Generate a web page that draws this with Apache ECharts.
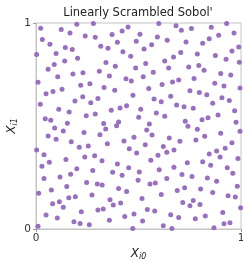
<!DOCTYPE html>
<html lang="en">
<head>
    <meta charset="UTF-8">
    <title>Linearly Scrambled Sobol'</title>
    <script src="https://cdn.jsdelivr.net/npm/echarts@6/dist/echarts.min.js"></script>
    <style>
        body { margin: 0; background: #fff; }
    </style>
</head>
<body>
<div id="main" style="width: 243px;height:260px;"></div>
<script type="text/javascript">
    // values, x in [0,1]
    var xVals = [
        0.023, 0.123, 0.199, 0.280, 0.166, 0.240, 0.289, 0.031, 0.068, 0.316, 0.143, 0.177, 0.003, 0.098, 0.203, 0.140,
        0.089, 0.059, 0.309, 0.229, 0.180, 0.106, 0.010, 0.218, 0.263, 0.332, 0.127, 0.083, 0.049, 0.302, 0.228, 0.190,
        0.267, 0.021, 0.111, 0.162, 0.289, 0.245, 0.045, 0.072, 0.153, 0.330,
        0.449, 0.420, 0.371, 0.507, 0.599, 0.592, 0.640, 0.397, 0.489, 0.564, 0.527, 0.351, 0.424, 0.462, 0.671, 0.628,
        0.341, 0.535, 0.387, 0.486, 0.647, 0.572, 0.358, 0.523, 0.439, 0.465, 0.666, 0.615, 0.384, 0.550, 0.657, 0.473,
        0.576, 0.611, 0.442, 0.410, 0.367, 0.511, 0.587, 0.628, 0.501, 0.403, 0.393, 0.553,
        0.683, 0.709, 0.758, 0.855, 0.930, 0.966, 0.891, 0.845, 0.813, 0.732, 0.989, 0.956, 0.706, 0.787, 0.875, 0.927,
        0.992, 0.745, 0.794, 0.820, 0.901, 0.950, 0.771, 0.696, 0.872, 0.917, 0.995, 0.751, 0.797, 0.833, 0.907, 0.943,
        0.862, 0.686, 0.722, 0.767, 0.969, 0.888, 0.839, 0.810, 0.728, 0.976, 0.741,
        0.091, 0.133, 0.059, 0.098, 0.234, 0.312, 0.172, 0.211, 0.255, 0.003, 0.039, 0.238, 0.286, 0.146, 0.065, 0.322,
        0.029, 0.199, 0.277, 0.169, 0.117, 0.039, 0.247, 0.299, 0.323, 0.150, 0.075, 0.013, 0.273, 0.192, 0.160, 0.081,
        0.114, 0.133, 0.328, 0.302, 0.221, 0.049, 0.104, 0.185, 0.215, 0.260, 0.010,
        0.340, 0.540, 0.566, 0.650, 0.478, 0.429, 0.348, 0.533, 0.621, 0.673, 0.455, 0.491, 0.638, 0.595, 0.560, 0.397,
        0.452, 0.601, 0.673, 0.374, 0.504, 0.420, 0.638, 0.498, 0.556, 0.582, 0.403, 0.442, 0.611, 0.517, 0.361, 0.413,
        0.377, 0.543, 0.579, 0.657, 0.478, 0.433, 0.358, 0.520, 0.621, 0.472, 0.663,
        0.787, 0.901, 0.995, 0.702, 0.780, 0.823, 0.956, 0.923, 0.881, 0.845, 0.898, 0.985, 0.738, 0.813, 0.852, 0.933,
        0.960, 0.712, 0.761, 0.836, 0.881, 0.982, 0.725, 0.689, 0.803, 0.862, 0.937, 0.972, 0.716, 0.767, 0.751, 0.800,
        0.998, 0.911, 0.696, 0.777, 0.826, 0.917, 0.946, 0.868
    ];
    var yVals = [
        0.974, 0.968, 0.994, 0.998, 0.952, 0.937, 0.931, 0.920, 0.897, 0.887, 0.881, 0.871, 0.847, 0.852, 0.829, 0.816,
        0.799, 0.776, 0.766, 0.758, 0.752, 0.739, 0.712, 0.698, 0.705, 0.687, 0.679, 0.668, 0.656, 0.634, 0.642, 0.621,
        0.613, 0.606, 0.581, 0.568, 0.558, 0.550, 0.535, 0.528, 0.513, 0.512,
        0.981, 0.961, 0.944, 0.945, 0.998, 0.932, 0.916, 0.907, 0.911, 0.894, 0.874, 0.878, 0.860, 0.839, 0.835, 0.816,
        0.808, 0.803, 0.790, 0.782, 0.781, 0.761, 0.743, 0.739, 0.729, 0.719, 0.714, 0.702, 0.673, 0.682, 0.644, 0.649,
        0.631, 0.618, 0.598, 0.587, 0.576, 0.581, 0.563, 0.547, 0.542, 0.519, 0.501, 0.510,
        0.987, 0.965, 0.973, 0.979, 0.997, 0.952, 0.940, 0.923, 0.902, 0.908, 0.884, 0.864, 0.857, 0.849, 0.842, 0.824,
        0.810, 0.786, 0.794, 0.771, 0.755, 0.747, 0.731, 0.723, 0.708, 0.694, 0.684, 0.671, 0.663, 0.652, 0.637, 0.624,
        0.611, 0.602, 0.593, 0.586, 0.574, 0.553, 0.540, 0.530, 0.523, 0.518, 0.499,
        0.490, 0.476, 0.452, 0.436, 0.468, 0.458, 0.423, 0.397, 0.403, 0.384, 0.361, 0.349, 0.355, 0.337, 0.324, 0.331,
        0.305, 0.292, 0.284, 0.266, 0.253, 0.245, 0.226, 0.219, 0.213, 0.206, 0.189, 0.174, 0.165, 0.156, 0.152, 0.122,
        0.132, 0.106, 0.097, 0.092, 0.084, 0.068, 0.053, 0.035, 0.027, 0.021, 0.013,
        0.485, 0.481, 0.456, 0.442, 0.445, 0.427, 0.414, 0.409, 0.400, 0.384, 0.390, 0.369, 0.373, 0.358, 0.334, 0.315,
        0.297, 0.288, 0.300, 0.276, 0.277, 0.261, 0.245, 0.237, 0.218, 0.223, 0.197, 0.182, 0.167, 0.148, 0.142, 0.126,
        0.116, 0.095, 0.087, 0.069, 0.073, 0.061, 0.042, 0.039, 0.016, 0.002, 0.002,
        0.484, 0.465, 0.474, 0.426, 0.432, 0.450, 0.419, 0.392, 0.379, 0.364, 0.350, 0.342, 0.321, 0.327, 0.310, 0.297,
        0.271, 0.264, 0.255, 0.248, 0.232, 0.208, 0.200, 0.187, 0.194, 0.177, 0.161, 0.155, 0.129, 0.138, 0.113, 0.119,
        0.103, 0.080, 0.056, 0.050, 0.063, 0.026, 0.030, 0.006
    ];
    var tickValues = [0, 1];
    var titleText = "Linearly Scrambled Sobol'";

    var points = [];
    for (var i = 0; i < xVals.length; i++) {
        points.push([xVals[i], yVals[i]]);
    }

    var font = 'DejaVu Sans';
    var nameRich = {
        v: { fontFamily: font, fontStyle: 'italic', fontSize: 12, color: '#222' },
        s: { fontFamily: font, fontStyle: 'italic', fontSize: 8, color: '#222', padding: [6, 0, 0, 0] }
    };

    var myChart = echarts.init(document.getElementById('main'), null, { renderer: 'canvas' });
    var option = {
        animation: false,
        title: {
            text: titleText,
            left: 138,
            top: 7,
            padding: 0,
            textAlign: 'center',
            textStyle: { fontFamily: font, fontSize: 11.5, fontWeight: 'normal', color: '#222' }
        },
        grid: {
            left: 36, right: 2, top: 23, bottom: 31,
            outerBoundsMode: 'none',
            containLabel: false,
            show: true,
            borderColor: '#c4c4c4',
            borderWidth: 1
        },
        xAxis: {
            type: 'value',
            min: tickValues[0],
            max: tickValues[1],
            interval: 1,
            name: '{v|X}{s|i0}',
            nameLocation: 'middle',
            nameGap: 18,
            nameMoveOverlap: false,
            nameTextStyle: { rich: nameRich },
            axisLine: { show: true, lineStyle: { color: '#c4c4c4' } },
            axisTick: { show: true, length: 3, lineStyle: { color: '#999' } },
            axisLabel: { fontFamily: font, fontSize: 10.5, color: '#333', margin: 4 },
            splitLine: { show: false }
        },
        yAxis: {
            type: 'value',
            min: tickValues[0],
            max: tickValues[1],
            interval: 1,
            name: '{v|X}{s|i1}',
            nameLocation: 'middle',
            nameGap: 17,
            nameMoveOverlap: false,
            nameRotate: 90,
            nameTextStyle: { rich: nameRich },
            axisLine: { show: true, lineStyle: { color: '#c4c4c4' } },
            axisTick: { show: true, length: 3, lineStyle: { color: '#999' } },
            axisLabel: { fontFamily: font, fontSize: 10.5, color: '#333', margin: 5 },
            splitLine: { show: false }
        },
        series: [{
            type: 'scatter',
            data: points,
            symbolSize: 5,
            itemStyle: { color: '#9467bd', opacity: 0.95 }
        }]
    };
    myChart.setOption(option);
</script>
</body>
</html>
